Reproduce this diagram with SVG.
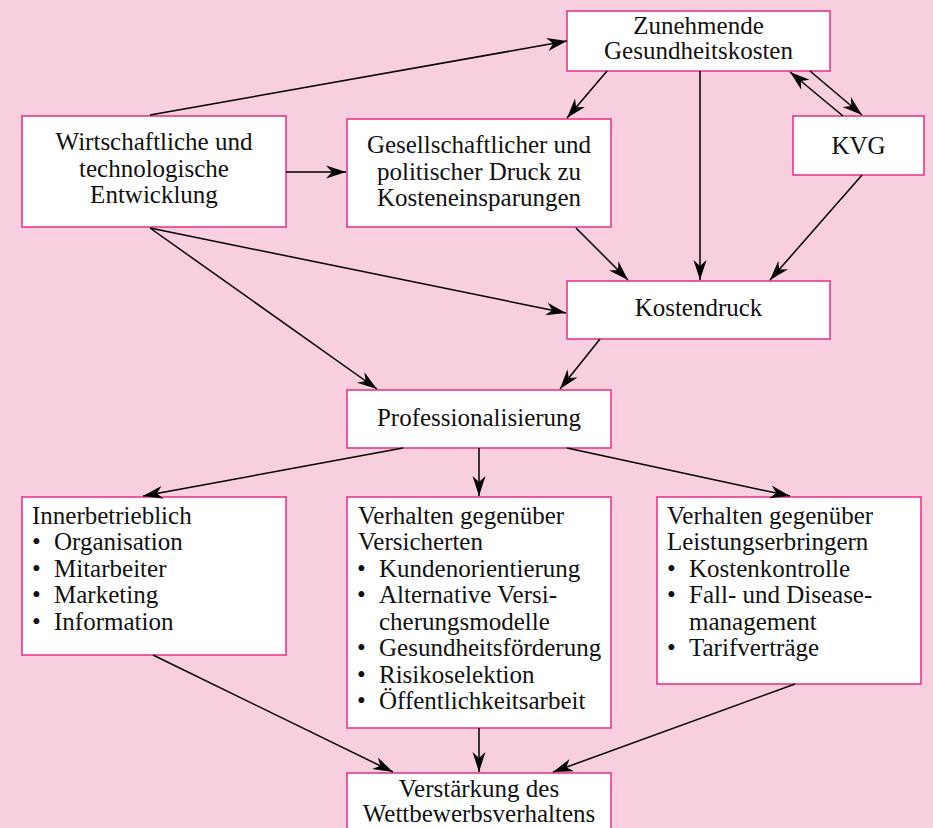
<svg xmlns="http://www.w3.org/2000/svg" width="933" height="828" viewBox="0 0 933 828">
<defs>
<marker id="ah" markerUnits="userSpaceOnUse" markerWidth="24" markerHeight="16" viewBox="-21 -8 22 16" refX="0" refY="0" orient="auto">
<path d="M0,0 L-20,-6.5 L-14,0 L-20,6.5 Z" fill="#000"/>
</marker>
<style>
.box{fill:#fff;stroke:#e8378d;stroke-width:1.6}
.t{font-family:"Liberation Serif","Times New Roman",serif;font-size:25px;fill:#111}
.c{text-anchor:middle}
.ln{stroke:#000;stroke-width:1.5;fill:none;marker-end:url(#ah)}
</style>
</defs>
<rect width="933" height="828" fill="#f8cfde"/>

<g id="n-zunehmende">
<rect class="box" x="567" y="11" width="263" height="60"/>
<text class="t c" x="698.5" y="34">Zunehmende</text>
<text class="t c" x="698.5" y="59">Gesundheitskosten</text>
</g>
<g id="n-wirtschaft">
<rect class="box" x="22" y="116" width="264" height="111"/>
<text class="t c" x="154" y="150">Wirtschaftliche und</text>
<text class="t c" x="154" y="177">technologische</text>
<text class="t c" x="154" y="203">Entwicklung</text>
</g>
<g id="n-gesell">
<rect class="box" x="347" y="119" width="264" height="108"/>
<text class="t c" x="479" y="153">Gesellschaftlicher und</text>
<text class="t c" x="479" y="180">politischer Druck zu</text>
<text class="t c" x="479" y="206">Kosteneinsparungen</text>
</g>
<g id="n-kvg">
<rect class="box" x="793" y="116" width="131" height="59"/>
<text class="t c" x="858.5" y="154">KVG</text>
</g>
<g id="n-kostendruck">
<rect class="box" x="567" y="281" width="263" height="58"/>
<text class="t c" x="698.5" y="316">Kostendruck</text>
</g>
<g id="n-prof">
<rect class="box" x="347" y="390" width="264" height="58"/>
<text class="t c" x="479" y="426">Professionalisierung</text>
</g>
<g id="n-inner">
<rect class="box" x="22" y="497" width="264" height="158"/>
<text class="t" x="32" y="524">Innerbetrieblich</text>
<text class="t" x="32" y="550">•</text><text class="t" x="54" y="550">Organisation</text>
<text class="t" x="32" y="577">•</text><text class="t" x="54" y="577">Mitarbeiter</text>
<text class="t" x="32" y="603">•</text><text class="t" x="54" y="603">Marketing</text>
<text class="t" x="32" y="630">•</text><text class="t" x="54" y="630">Information</text>
</g>
<g id="n-versicherte">
<rect class="box" x="347" y="497" width="264" height="231"/>
<text class="t" x="358" y="524">Verhalten gegenüber</text>
<text class="t" x="358" y="550">Versicherten</text>
<text class="t" x="357" y="577">•</text><text class="t" x="379" y="577">Kundenorientierung</text>
<text class="t" x="357" y="603">•</text><text class="t" x="379" y="603">Alternative Versi-</text>
<text class="t" x="379" y="630">cherungsmodelle</text>
<text class="t" x="357" y="656">•</text><text class="t" x="379" y="656">Gesundheitsförderung</text>
<text class="t" x="357" y="683">•</text><text class="t" x="379" y="683">Risikoselektion</text>
<text class="t" x="357" y="709">•</text><text class="t" x="379" y="709">Öffentlichkeitsarbeit</text>
</g>
<g id="n-leistung">
<rect class="box" x="657" y="497" width="264" height="187"/>
<text class="t" x="667" y="524">Verhalten gegenüber</text>
<text class="t" x="667" y="550">Leistungserbringern</text>
<text class="t" x="667" y="577">•</text><text class="t" x="689" y="577">Kostenkontrolle</text>
<text class="t" x="667" y="603">•</text><text class="t" x="689" y="603">Fall- und Disease-</text>
<text class="t" x="689" y="630">management</text>
<text class="t" x="667" y="656">•</text><text class="t" x="689" y="656">Tarifverträge</text>
</g>
<g id="n-verstaerkung">
<rect class="box" x="347" y="773" width="264" height="70"/>
<text class="t c" x="479" y="797">Verstärkung des</text>
<text class="t c" x="479" y="822">Wettbewerbsverhaltens</text>
</g>

<g id="connectors">
<line class="ln" x1="150" y1="115" x2="567" y2="41"/>
<line class="ln" x1="286" y1="172" x2="346" y2="172"/>
<line class="ln" x1="607" y1="71" x2="567" y2="118"/>
<line class="ln" x1="700" y1="71" x2="700" y2="280"/>
<line class="ln" x1="843" y1="116" x2="790" y2="72"/>
<line class="ln" x1="810" y1="71" x2="862" y2="115"/>
<line class="ln" x1="862" y1="175" x2="770" y2="280"/>
<line class="ln" x1="576" y1="228" x2="628" y2="280"/>
<line class="ln" x1="150" y1="228" x2="566" y2="313"/>
<line class="ln" x1="150" y1="228" x2="377" y2="389"/>
<line class="ln" x1="600" y1="339" x2="560" y2="389"/>
<line class="ln" x1="403" y1="448" x2="143" y2="496"/>
<line class="ln" x1="479" y1="448" x2="479" y2="496"/>
<line class="ln" x1="567" y1="448" x2="790" y2="496"/>
<line class="ln" x1="153" y1="655" x2="393" y2="772"/>
<line class="ln" x1="479" y1="728" x2="479" y2="772"/>
<line class="ln" x1="795" y1="684" x2="553" y2="772"/>
</g>
</svg>
